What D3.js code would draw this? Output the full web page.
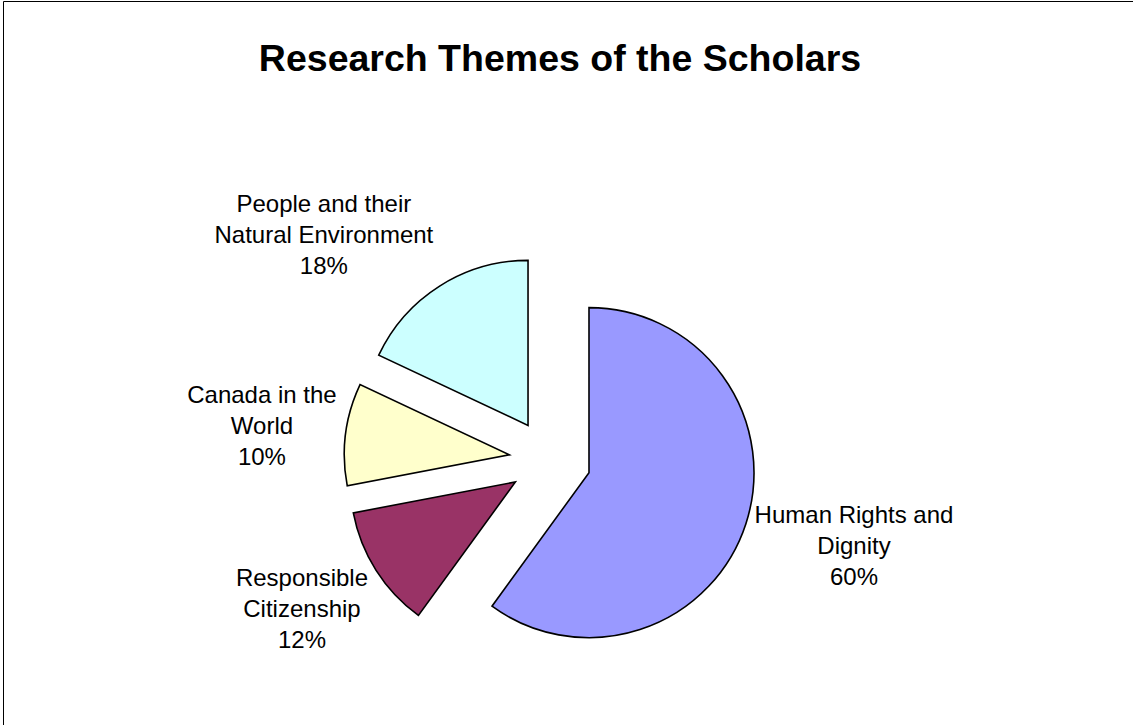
<!DOCTYPE html>
<html>
<head>
<meta charset="utf-8">
<script src="https://cdn.jsdelivr.net/npm/d3@7"></script>
<style>
  html, body { margin: 0; padding: 0; background: #ffffff; }
  svg { display: block; }
</style>
</head>
<body>
<svg id="chart" width="1133" height="725"></svg>
<script>
// ---- Data ----
const chartTitle = "Research Themes of the Scholars";
const categories = ["Human Rights and Dignity", "Responsible Citizenship", "Canada in the World", "People and their Natural Environment"];
const labelLines = [["Human Rights and", "Dignity"], ["Responsible", "Citizenship"], ["Canada in the", "World"], ["People and their", "Natural Environment"]];
const values = [60, 12, 10, 18];
const colors = ["#9999FF", "#993366", "#FFFFCC", "#CCFFFF"];

// ---- Layout ----
const W = 1133, H = 725;
const cx = 550, cy = 460, R = 165, explode = 41, labelR = 212;
const fontFamily = "'Liberation Sans', Arial, Helvetica, sans-serif";
const labelSize = 24, lineH = 31;

const svg = d3.select("#chart");

// frame (top and left edges visible)
svg.append("line").attr("x1", 3.5).attr("y1", 1.5).attr("x2", W).attr("y2", 1.5)
  .attr("stroke", "#000").attr("stroke-width", 1);
svg.append("line").attr("x1", 3.5).attr("y1", 1.5).attr("x2", 3.5).attr("y2", H)
  .attr("stroke", "#000").attr("stroke-width", 1);

// title
svg.append("text")
  .attr("x", 560).attr("y", 71)
  .attr("text-anchor", "middle")
  .attr("font-family", fontFamily)
  .attr("font-weight", "bold")
  .attr("font-size", 37.5)
  .attr("fill", "#000")
  .text(chartTitle);

const total = d3.sum(values);
const pie = d3.pie().sort(null).value(d => d).startAngle(0).endAngle(2 * Math.PI);
const arcs = pie(values);
const arcGen = d3.arc().innerRadius(0).outerRadius(R);

const g = svg.append("g").attr("transform", `translate(${cx},${cy})`);

arcs.forEach((a, i) => {
  const mid = (a.startAngle + a.endAngle) / 2;
  const dx = Math.sin(mid), dy = -Math.cos(mid);
  g.append("path")
    .attr("d", arcGen(a))
    .attr("transform", `translate(${dx * explode},${dy * explode})`)
    .attr("fill", colors[i])
    .attr("stroke", "#000")
    .attr("stroke-width", 1.6)
    .attr("stroke-linejoin", "miter");
});

// labels
arcs.forEach((a, i) => {
  const mid = (a.startAngle + a.endAngle) / 2;
  const dx = Math.sin(mid), dy = -Math.cos(mid);
  const ax = cx + dx * labelR, ay = cy + dy * labelR;
  const lines = labelLines[i].concat([Math.round(values[i] / total * 100) + "%"]);
  const t = svg.append("text")
    .attr("font-family", fontFamily)
    .attr("font-size", labelSize)
    .attr("fill", "#000")
    .attr("text-anchor", "middle");
  lines.forEach((ln, k) => {
    t.append("tspan").attr("x", 0).attr("y", (k - 1) * lineH + labelSize * 0.35).text(ln);
  });
  const bb = t.node().getBBox();
  const w = bb.width + 6, h = lineH * lines.length;
  const f = Math.max(-1, Math.min(1, dx * 2));
  const gy = Math.max(-1, Math.min(1, dy * 1.4));
  const bx = ax + f * w / 2, by = ay + gy * h / 2;
  t.attr("transform", `translate(${bx},${by})`);
});
</script>
</body>
</html>
